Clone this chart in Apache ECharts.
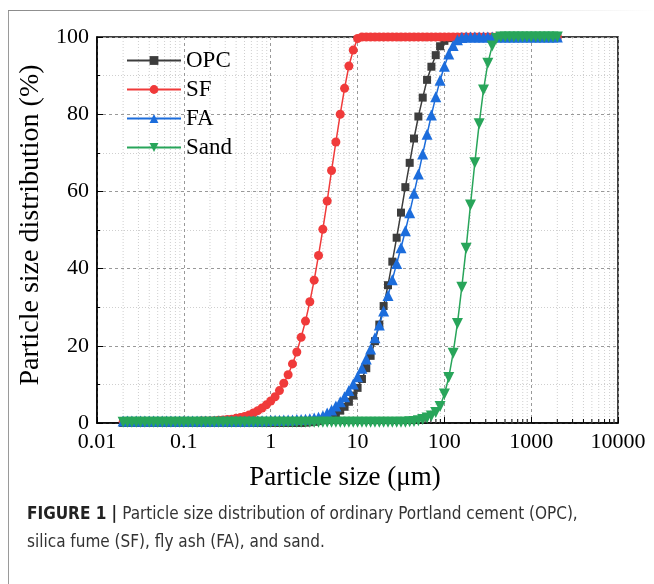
<!DOCTYPE html>
<html>
<head>
<meta charset="utf-8">
<script src="https://cdn.jsdelivr.net/npm/echarts@6/dist/echarts.min.js"></script>
<style>
  html, body { margin: 0; padding: 0; background: #fff; }
  #chart { width: 654px; height: 584px; }
</style>
</head>
<body>
<div id="chart"></div>
<script>
// particle sizes (um), laser diffraction bins
var sizes = [
  0.020, 0.0224, 0.0252, 0.0283, 0.0317, 0.0356, 0.0399, 0.0448, 0.0502, 0.0564,
  0.0632, 0.0710, 0.0796, 0.0893, 0.100, 0.112, 0.126, 0.142, 0.159, 0.178,
  0.200, 0.224, 0.252, 0.283, 0.317, 0.356, 0.399, 0.448, 0.502, 0.564,
  0.632, 0.710, 0.796, 0.893, 1.002, 1.125, 1.262, 1.416, 1.589, 1.783,
  2.000, 2.244, 2.518, 2.825, 3.170, 3.557, 3.991, 4.477, 5.024, 5.637,
  6.325, 7.096, 7.962, 8.934, 10.02, 11.25, 12.62, 14.16, 15.89, 17.83,
  20.00, 22.44, 25.18, 28.25, 31.70, 35.57, 39.91, 44.77, 50.24, 56.37,
  63.25, 70.96, 79.62, 89.34, 100.2, 112.5, 126.2, 141.6, 158.9, 178.3,
  200.0, 224.4, 251.8, 282.5, 317.0, 355.7, 399.1, 447.7, 502.4, 563.7,
  632.5, 709.6, 796.2, 893.4, 1002, 1125, 1262, 1416, 1589, 1783,
  2000
];

// cumulative distribution (%)
var opc = [
  0, 0, 0, 0, 0, 0, 0, 0, 0, 0,
  0, 0, 0, 0, 0, 0, 0, 0, 0, 0,
  0, 0, 0, 0, 0, 0, 0, 0, 0, 0,
  0, 0, 0, 0, 0, 0, 0, 0, 0, 0,
  0, 0, 0.1, 0.2, 0.3, 0.5, 0.8, 1.2, 1.7, 2.4,
  3.2, 4.2, 5.5, 7.1, 9.1, 11.4, 14.2, 17.4, 21.2, 25.5,
  30.3, 35.7, 41.8, 48.0, 54.5, 61.1, 67.4, 73.7, 79.4, 84.3,
  88.9, 92.3, 95.3, 97.6, 99.0, 99.7, 100, 100, 100, 100,
  100, 100, 100, 100, 100, 100, 100, 100, 100, 100,
  100, 100, 100, 100, 100, 100, 100, 100, 100, 100,
  100
];
var sf = [
  0.3, 0.3, 0.3, 0.3, 0.3, 0.3, 0.3, 0.3, 0.3, 0.3,
  0.4, 0.4, 0.4, 0.4, 0.4, 0.4, 0.4, 0.4, 0.5, 0.5,
  0.55, 0.6, 0.7, 0.8, 0.9, 1.0, 1.2, 1.4, 1.7, 2.1,
  2.6, 3.2, 3.9, 4.7, 5.7, 6.8, 8.4, 10.3, 12.5, 15.3,
  18.4, 22.2, 26.4, 31.4, 37.0, 43.4, 50.2, 57.5, 65.4, 72.8,
  80.0, 86.7, 92.5, 96.6, 99.6, 100, 100, 100, 100, 100,
  100, 100, 100, 100, 100, 100, 100, 100, 100, 100,
  100, 100, 100, 100, 100, 100, 100, 100, 100, 100,
  100, 100, 100, 100, 100, 100, 100, 100, 100, 100,
  100, 100, 100, 100, 100, 100, 100, 100, 100, 100,
  100
];
var fa = [
  0.5, 0.5, 0.5, 0.5, 0.5, 0.5, 0.5, 0.5, 0.5, 0.5,
  0.5, 0.5, 0.5, 0.5, 0.5, 0.5, 0.5, 0.5, 0.5, 0.5,
  0.5, 0.5, 0.5, 0.5, 0.5, 0.5, 0.5, 0.5, 0.5, 0.5,
  0.5, 0.6, 0.6, 0.6, 0.7, 0.7, 0.7, 0.8, 0.8, 0.8,
  0.9, 0.9, 1.0, 1.1, 1.3, 1.5, 1.9, 2.6, 3.4, 4.4,
  5.5, 6.8, 8.4, 10.1, 12.0, 14.2, 16.6, 19.2, 22.1, 25.4,
  29.0, 33.0, 37.1, 41.3, 45.4, 49.8, 54.5, 59.5, 64.5, 69.7,
  74.8, 79.8, 84.5, 88.8, 92.4, 95.6, 97.8, 99.3, 99.9, 100,
  100, 100, 100, 100, 100, 100, 100, 100, 100, 100,
  100, 100, 100, 100, 100, 100, 100, 100, 100, 100,
  100
];
var sand = [
  0.2, 0.2, 0.2, 0.2, 0.2, 0.2, 0.2, 0.2, 0.2, 0.2,
  0.2, 0.2, 0.2, 0.2, 0.2, 0.2, 0.2, 0.2, 0.2, 0.2,
  0.2, 0.2, 0.2, 0.2, 0.2, 0.2, 0.2, 0.2, 0.2, 0.2,
  0.2, 0.2, 0.2, 0.2, 0.2, 0.2, 0.2, 0.2, 0.2, 0.2,
  0.2, 0.2, 0.2, 0.2, 0.2, 0.2, 0.2, 0.2, 0.2, 0.2,
  0.2, 0.2, 0.2, 0.2, 0.2, 0.2, 0.2, 0.2, 0.2, 0.2,
  0.2, 0.2, 0.2, 0.2, 0.2, 0.2, 0.3, 0.4, 0.6, 0.9,
  1.3, 1.8, 2.7, 4.3, 7.5, 11.8, 18.1, 25.8, 35.2, 45.3,
  56.5, 67.4, 77.5, 86.3, 93.2, 97.7, 99.6, 100, 100, 100,
  100, 100, 100, 100, 100, 100, 100, 100, 100, 100,
  100
];

// minor x ticks (2..9 in every decade)
var minorX = [
  0.02, 0.03, 0.04, 0.05, 0.06, 0.07, 0.08, 0.09,
  0.2, 0.3, 0.4, 0.5, 0.6, 0.7, 0.8, 0.9,
  2, 3, 4, 5, 6, 7, 8, 9,
  20, 30, 40, 50, 60, 70, 80, 90,
  200, 300, 400, 500, 600, 700, 800, 900,
  2000, 3000, 4000, 5000, 6000, 7000, 8000, 9000
];

var serif = "'Liberation Serif', 'Times New Roman', serif";
var sans = "'Liberation Sans Narrow', 'DejaVu Sans Condensed', 'Liberation Sans', Arial, sans-serif";

function pairs(ys) {
  return sizes.map(function (x, i) { return [x, ys[i]]; });
}

function lineSeries(name, ys, color, symbol, size, rotate) {
  return {
    name: name,
    type: 'line',
    data: pairs(ys),
    symbol: symbol,
    symbolSize: size,
    symbolRotate: rotate || 0,
    showAllSymbol: true,
    color: color,
    lineStyle: { color: color, width: 1.5 },
    itemStyle: { color: color },
    emphasis: { disabled: true },
    z: 3
  };
}

var chart = echarts.init(document.getElementById('chart'));

var option = {
  animation: false,
  backgroundColor: '#fff',
  title: {
    left: 22,
    top: 496,
    text: '{b|FIGURE 1 |} {n|Particle size distribution of ordinary Portland cement (OPC),}\n{n|silica fume (SF), fly ash (FA), and sand.}',
    textStyle: {
      fontWeight: 'normal',
      rich: {
        b: { fontFamily: sans, fontWeight: 'bold', fontSize: 17, color: '#222', lineHeight: 28 },
        n: { fontFamily: sans, fontWeight: 'normal', fontSize: 17, color: '#333', lineHeight: 28 }
      }
    }
  },
  graphic: [
    { type: 'line', shape: { x1: 8.5, y1: 10, x2: 8.5, y2: 584 }, style: { stroke: '#9a9a9a', lineWidth: 1 } },
    {
      type: 'line', shape: { x1: 8, y1: 10.5, x2: 654, y2: 10.5 },
      style: {
        lineWidth: 1,
        stroke: new echarts.graphic.LinearGradient(0, 0, 1, 0, [
          { offset: 0, color: '#8a8a8a' },
          { offset: 1, color: '#ffffff' }
        ])
      }
    }
  ],
  legend: {
    data: ['OPC', 'SF', 'FA', 'Sand'],
    orient: 'vertical',
    left: 121,
    top: 44,
    itemWidth: 54,
    itemHeight: 11,
    itemGap: 6,
    textStyle: { fontFamily: serif, fontSize: 23, color: '#000', lineHeight: 23 }
  },
  grid: {
    left: 97,
    right: 36,
    top: 37,
    bottom: 161,
    show: true,
    borderColor: '#000',
    borderWidth: 1.5,
    backgroundColor: 'transparent'
  },
  xAxis: {
    type: 'log',
    logBase: 10,
    min: 0.01,
    max: 10000,
    name: 'Particle size (\u03bcm)',
    nameLocation: 'middle',
    nameGap: 41,
    nameTextStyle: { fontFamily: serif, fontSize: 27, color: '#000', padding: [0, 25, 0, 0] },
    axisLine: { lineStyle: { color: '#000', width: 1.5 } },
    axisTick: { inside: true, length: 6, lineStyle: { color: '#000', width: 1 } },
    axisLabel: {
      fontFamily: serif, fontSize: 22, color: '#000', margin: 8,
      formatter: function (v) { return String(v); }
    },
    splitLine: { show: true, lineStyle: { color: '#999', type: [3, 3], width: 1 } }
  },
  yAxis: {
    type: 'value',
    min: 0,
    max: 100,
    interval: 20,
    name: 'Particle size distribution (%)',
    nameLocation: 'middle',
    nameGap: 47,
    nameTextStyle: { fontFamily: serif, fontSize: 28, color: '#000', padding: [0, 0, 0, 10] },
    axisLine: { show: true, lineStyle: { color: '#000', width: 1.5 } },
    axisTick: { show: true, inside: true, length: 6, lineStyle: { color: '#000', width: 1 } },
    minorTick: { show: true, splitNumber: 2, length: 3, lineStyle: { color: '#000', width: 1 } },
    axisLabel: { fontFamily: serif, fontSize: 22, color: '#000', margin: 8 },
    splitLine: { show: true, lineStyle: { color: '#999', type: [3, 3], width: 1 } },
    minorSplitLine: { show: true, lineStyle: { color: '#cfcfcf', type: [1, 2], width: 1 } }
  },
  series: [
    {
      name: 'minor',
      type: 'custom',
      silent: true,
      z: 1,
      data: minorX.map(function (v) { return [v, 0]; }),
      renderItem: function (params, api) {
        var b = api.coord([api.value(0), 0]);
        var t = api.coord([api.value(0), 100]);
        return {
          type: 'group',
          children: [
            { type: 'line', shape: { x1: b[0], y1: b[1], x2: t[0], y2: t[1] }, style: { stroke: '#cfcfcf', lineWidth: 1, lineDash: [1, 2] } },
            { type: 'line', shape: { x1: b[0], y1: b[1], x2: b[0], y2: b[1] - 4 }, style: { stroke: '#000', lineWidth: 1 } }
          ]
        };
      }
    },
    lineSeries('OPC', opc, '#3d3d3d', 'rect', 8),
    lineSeries('SF', sf, '#f03a3a', 'circle', 9),
    lineSeries('FA', fa, '#1c6ddc', 'triangle', 11),
    lineSeries('Sand', sand, '#28a55a', 'triangle', 11, 180)
  ]
};

chart.setOption(option);
</script>
</body>
</html>
